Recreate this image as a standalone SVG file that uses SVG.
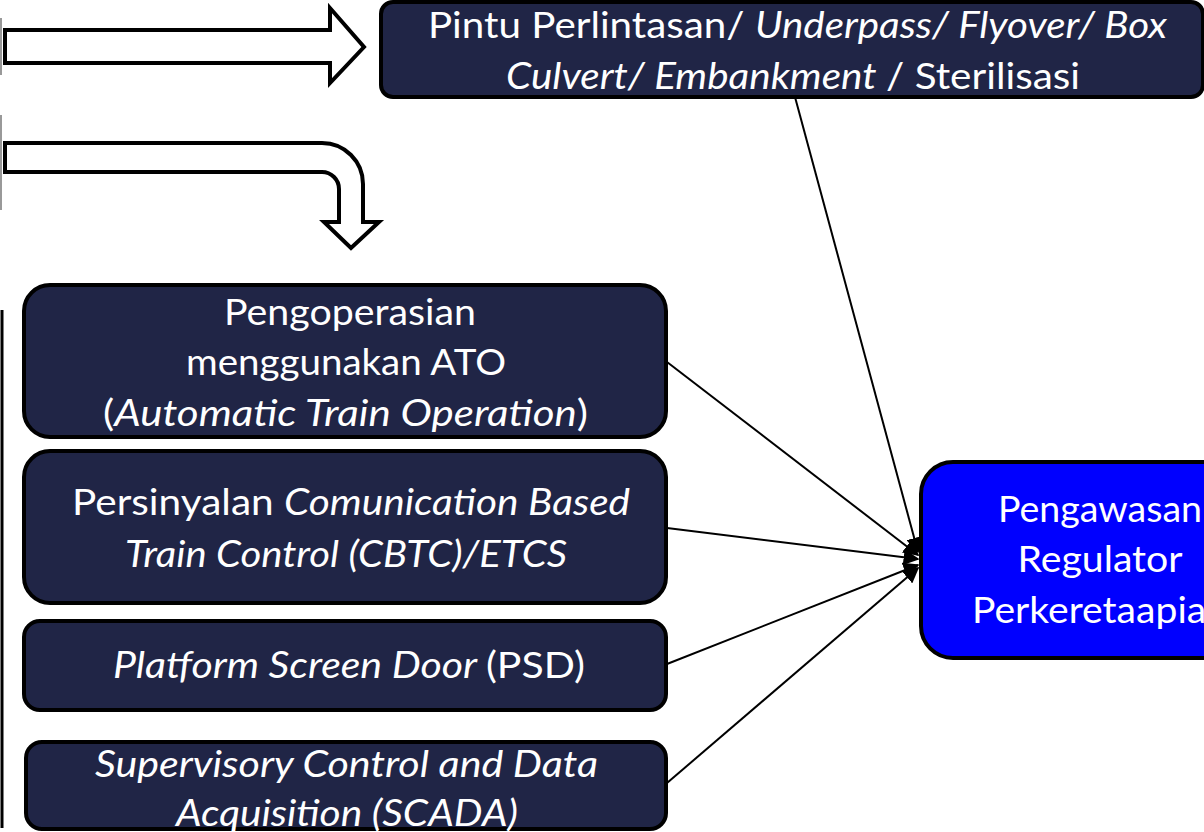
<svg xmlns="http://www.w3.org/2000/svg" width="1204" height="832" viewBox="0 0 1204 832">
<style>
.box{fill:#202546;stroke:#000;stroke-width:4}
.blue{fill:#0000ff;stroke:#000;stroke-width:4}
.t{font-family:Lato,"Open Sans","Liberation Sans",sans-serif;font-size:36px;fill:#fff;text-anchor:middle}
.i{font-style:italic}
.conn{stroke:#000;stroke-width:2;fill:none}
.barrow{fill:#fff;stroke:#000;stroke-width:4;stroke-linejoin:miter}
</style>
<defs>
<marker id="ah" viewBox="0 0 10 10" refX="9" refY="5" markerWidth="8" markerHeight="8" orient="auto" markerUnits="strokeWidth">
<path d="M0,0 L10,5 L0,10 Z" fill="#000"/>
</marker>
</defs>
<rect width="1204" height="832" fill="#fff"/>
<g id="edges-left">
<line x1="1" y1="18" x2="1" y2="75" stroke="#999" stroke-width="2"/>
<line x1="1" y1="115" x2="1" y2="210" stroke="#999" stroke-width="2"/>
<line x1="2" y1="310" x2="2" y2="828" stroke="#000" stroke-width="3"/>
</g>
<g id="block-arrows">
<path class="barrow" d="M5,30 H330 V8 L364,47 L330,83 V63 H5 Z"/>
<path class="barrow" d="M5,143 H322 A41,41 0 0 1 363,184 V222 H379 L351,248 L324,222 H339 V189 A17,17 0 0 0 322,172 H5 Z"/>
</g>
<g id="connectors">
<line class="conn" x1="795" y1="97" x2="918" y2="552" marker-end="url(#ah)"/>
<line class="conn" x1="667" y1="362" x2="918" y2="555" marker-end="url(#ah)"/>
<line class="conn" x1="667" y1="528" x2="918" y2="559" marker-end="url(#ah)"/>
<line class="conn" x1="667" y1="664" x2="918" y2="565" marker-end="url(#ah)"/>
<line class="conn" x1="667" y1="783" x2="918" y2="568" marker-end="url(#ah)"/>
</g>
<g id="node-top">
<rect class="box" x="381" y="2" width="822" height="95" rx="12"/>
<text class="t" x="797.5" y="38" textLength="739" lengthAdjust="spacingAndGlyphs">Pintu Perlintasan/ <tspan class="i">Underpass/ Flyover/ Box</tspan></text>
<text class="t" x="793" y="89" textLength="574" lengthAdjust="spacingAndGlyphs"><tspan class="i">Culvert/ Embankment </tspan>/ Sterilisasi</text>
</g>
<g id="node-ato">
<rect class="box" x="24" y="285" width="642" height="152" rx="26"/>
<text class="t" x="350" y="325" textLength="252" lengthAdjust="spacingAndGlyphs">Pengoperasian</text>
<text class="t" x="346" y="375" textLength="320" lengthAdjust="spacingAndGlyphs">menggunakan ATO</text>
<text class="t" x="345.5" y="426" textLength="485" lengthAdjust="spacingAndGlyphs">(<tspan class="i">Automatic Train Operation</tspan>)</text>
</g>
<g id="node-cbtc">
<rect class="box" x="24" y="451" width="642" height="152" rx="26"/>
<text class="t" x="351" y="515" textLength="558" lengthAdjust="spacingAndGlyphs">Persinyalan <tspan class="i">Comunication Based</tspan></text>
<text class="t" x="346" y="567" textLength="442" lengthAdjust="spacingAndGlyphs"><tspan class="i">Train Control (CBTC)/ETCS</tspan></text>
</g>
<g id="node-psd">
<rect class="box" x="24" y="621" width="642" height="89" rx="16"/>
<text class="t" x="349" y="678" textLength="472" lengthAdjust="spacingAndGlyphs"><tspan class="i">Platform Screen Door </tspan>(PSD)</text>
</g>
<g id="node-scada">
<rect class="box" x="26" y="742" width="640" height="87" rx="16"/>
<text class="t" x="346.5" y="777" textLength="503" lengthAdjust="spacingAndGlyphs"><tspan class="i">Supervisory Control and Data</tspan></text>
<text class="t" x="347" y="826" textLength="342" lengthAdjust="spacingAndGlyphs"><tspan class="i">Acquisition (SCADA)</tspan></text>
</g>
<g id="node-regulator">
<rect class="blue" x="921" y="462" width="360" height="196" rx="32"/>
<text class="t" x="1100" y="522" textLength="204" lengthAdjust="spacingAndGlyphs">Pengawasan</text>
<text class="t" x="1100" y="572" textLength="165" lengthAdjust="spacingAndGlyphs">Regulator</text>
<text class="t" x="1100" y="623" textLength="256" lengthAdjust="spacingAndGlyphs">Perkeretaapian</text>
</g>
</svg>
